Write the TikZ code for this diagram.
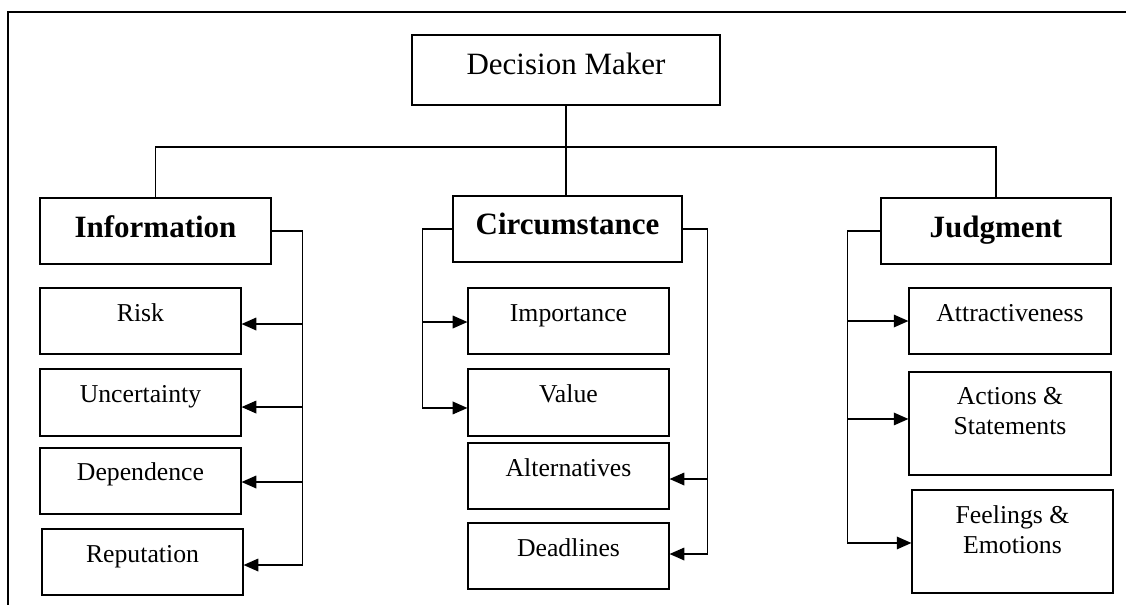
\documentclass[tikz,border=0pt]{standalone}
\usepackage{fontspec}
\setmainfont{Liberation Serif}
\usetikzlibrary{arrows.meta,calc}

\tikzset{
  box/.style={draw, rectangle, inner sep=0pt, line width=0.9pt},
  word/.style={anchor=base, inner sep=0pt, align=center,
               font=\fontsize{19.3}{22.5}\selectfont},
  title/.style={anchor=base, inner sep=0pt, align=center,
               font=\fontsize{23.25}{27}\selectfont},
  head/.style={anchor=base, inner sep=0pt, align=center,
               font=\fontsize{23.25}{27}\selectfont\bfseries},
  wire/.style={line width=0.9pt},
  feed/.style={wire, -{Triangle[length=11pt,width=9.5pt]}},
}

% \mkbox{name}{left}{top}{right}{bottom}: an empty framed box, pixel units
\newcommand\mkbox[5]{%
  \node[box, minimum width={(#4-#2)*0.75pt}, minimum height={(#5-#3)*0.75pt}]
    (#1) at ({(#2+#4)/2},{(#3+#5)/2}) {};}

\begin{document}
\begin{tikzpicture}[x=0.75pt,y=-0.75pt]
\useasboundingbox (0,0) rectangle (1126,604);

% outer frame (runs off the right and bottom edges)
\draw[line width=0.9pt] (8,606) -- (8,12) -- (1128,12);

% boxes
\mkbox{dm}{412}{35}{720}{105}
\mkbox{info}{40}{198}{271}{264}
\mkbox{circ}{453}{196}{682}{262}
\mkbox{judg}{881}{198}{1111}{264}

\mkbox{risk}{40}{288}{241}{354}
\mkbox{unc}{40}{369}{241}{436}
\mkbox{dep}{40}{448}{241}{514}
\mkbox{rep}{42}{529}{243}{595}

\mkbox{imp}{468}{288}{669}{354}
\mkbox{val}{468}{369}{669}{436}
\mkbox{alt}{468}{443}{669}{509}
\mkbox{dead}{468}{523}{669}{589}

\mkbox{attr}{909}{288}{1111}{354}
\mkbox{act}{909}{372}{1111}{475}
\mkbox{feel}{912}{490}{1113}{593}

% box texts
\node[title] (dm-t) at ([yshift=-30pt]dm.north) {Decision Maker};
\node[head] (info-t) at ([yshift=-30pt]info.north) {Information};
\node[head] (circ-t) at ([yshift=-29.25pt]circ.north) {Circumstance};
\node[head] (judg-t) at ([yshift=-30pt]judg.north) {Judgment};

\node[word] (risk-t) at ([yshift=-25.5pt]risk.north) {Risk};
\node[word] (unc-t) at ([yshift=-25.5pt]unc.north) {Uncertainty};
\node[word] (dep-t) at ([yshift=-25pt]dep.north) {Dependence};
\node[word] (rep-t) at ([yshift=-25.5pt]rep.north) {Reputation};

\node[word] (imp-t) at ([yshift=-25.5pt]imp.north) {Importance};
\node[word] (val-t) at ([yshift=-25.5pt]val.north) {Value};
\node[word] (alt-t) at ([yshift=-25.5pt]alt.north) {Alternatives};
\node[word] (dead-t) at ([yshift=-25.5pt]dead.north) {Deadlines};

\node[word] (attr-t) at ([yshift=-25.5pt]attr.north) {Attractiveness};
% two-line texts: the base anchor sits on the last line
\node[word] (act-t) at ([yshift=-47.5pt]act.north) {Actions \&\\Statements};
\node[word] (feel-t) at ([yshift=-48pt]feel.north) {Feelings \&\\Emotions};

% tree from the decision maker
\coordinate (bus) at (566,147);
\draw[wire] (info.north) |- (bus) -| (judg.north);
\draw[wire] (dm.south) -- (dm.south |- circ.north);

% information branch
\draw[feed] (info.east) -- ++(31,0) |- ([yshift=-2.25pt]risk.east);
\draw[feed] (info.east) -- ++(31,0) |- ([yshift=-3.4pt]unc.east);
\draw[feed] (info.east) -- ++(31,0) |- ([yshift=-0.75pt]dep.east);
\draw[feed] (info.east) -- ++(31,0) |- ([yshift=-2.25pt]rep.east);

% circumstance branch
\draw[feed] (circ.west) -- ++(-30,0) |- ([yshift=-0.75pt]imp.west);
\draw[feed] (circ.west) -- ++(-30,0) |- ([yshift=-4.1pt]val.west);
\draw[feed] (circ.east) -- ++(25,0) |- ([yshift=-2.25pt]alt.east);
\draw[feed] (circ.east) -- ++(25,0) |- ([yshift=1.5pt]dead.east);

% judgment branch
\draw[feed] (judg.west) -- ++(-33,0) |- (attr.west);
\draw[feed] (judg.west) -- ++(-33,0) |- ([yshift=3.4pt]act.west);
\draw[feed] (judg.west) -- ++(-33,0) |- ([yshift=-1.1pt]feel.west);
\end{tikzpicture}
\end{document}
